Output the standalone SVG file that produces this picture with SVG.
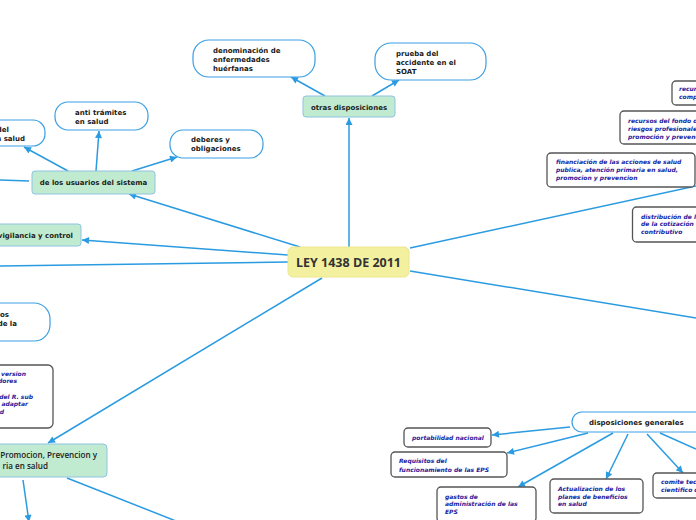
<svg xmlns="http://www.w3.org/2000/svg" width="696" height="520" viewBox="0 0 696 520">
<style>
.conn{stroke:#2b9be1;stroke-width:1.5;fill:none}
.pill{fill:#fff;stroke:#3a9fe3;stroke-width:1.2}
.green{fill:#c1ebd0;stroke:#8ec3e2;stroke-width:1}
.dark{fill:#fff;stroke:#555;stroke-width:1.3}
.t{font-family:"DejaVu Sans",Verdana,sans-serif;font-weight:bold;font-size:7px;fill:#1a1a1a}
.g{font-family:"DejaVu Sans",Verdana,sans-serif;font-weight:bold;font-size:7px;fill:#222}
.bi{font-family:"DejaVu Sans",Verdana,sans-serif;font-weight:bold;font-style:italic;font-size:6px;fill:#1c1c9c}
.os{font-family:"Open Sans","DejaVu Sans",sans-serif;font-weight:600;font-size:8.1px;fill:#222}
</style>
<defs>
<marker id="ah" viewBox="0 0 10 10" refX="10" refY="5" markerWidth="9" markerHeight="7" markerUnits="userSpaceOnUse" orient="auto"><path d="M0,0 L10,5 L0,10 z" fill="#2b9be1"/></marker>
</defs>
<rect width="696" height="520" fill="#fff"/>
<g id="connectors">
<line class="conn" x1="349" y1="247" x2="349" y2="118" marker-end="url(#ah)"/>
<line class="conn" x1="300" y1="247" x2="129" y2="194" marker-end="url(#ah)"/>
<line class="conn" x1="288" y1="255" x2="82" y2="240" marker-end="url(#ah)"/>
<line class="conn" x1="288" y1="262" x2="0" y2="266"/>
<line class="conn" x1="322" y1="278" x2="48" y2="443" marker-end="url(#ah)"/>
<line class="conn" x1="410" y1="248" x2="696" y2="186"/>
<line class="conn" x1="410" y1="271" x2="696" y2="318"/>
<line class="conn" x1="325" y1="96" x2="291" y2="77" marker-end="url(#ah)"/>
<line class="conn" x1="372" y1="96" x2="399" y2="80" marker-end="url(#ah)"/>
<line class="conn" x1="68" y1="171" x2="24" y2="147" marker-end="url(#ah)"/>
<line class="conn" x1="96" y1="171" x2="99" y2="131" marker-end="url(#ah)"/>
<line class="conn" x1="132" y1="171" x2="177" y2="157" marker-end="url(#ah)"/>
<line class="conn" x1="0" y1="180" x2="29" y2="181"/>
<line class="conn" x1="23" y1="480" x2="29" y2="522" marker-end="url(#ah)"/>
<line class="conn" x1="67" y1="478" x2="176" y2="521"/>
<line class="conn" x1="706" y1="162" x2="696" y2="168" marker-end="url(#ah)"/>
<line class="conn" x1="570" y1="427" x2="492" y2="435" marker-end="url(#ah)"/>
<line class="conn" x1="588" y1="433" x2="507" y2="453" marker-end="url(#ah)"/>
<line class="conn" x1="613" y1="433" x2="518" y2="487" marker-end="url(#ah)"/>
<line class="conn" x1="628" y1="434" x2="606" y2="479" marker-end="url(#ah)"/>
<line class="conn" x1="647" y1="434" x2="683" y2="473" marker-end="url(#ah)"/>
<line class="conn" x1="660" y1="433" x2="696" y2="449"/>
</g>
<g id="center">
<rect x="288" y="247" width="121" height="30" rx="5" fill="#f3f0a0" stroke="#ebe68e" stroke-width="1"/>
<text x="348.5" y="266.5" text-anchor="middle" style="font-family:'Open Sans','DejaVu Sans',sans-serif;font-weight:bold;font-size:12.5px;fill:#333">LEY 1438 DE 2011</text>
</g>
<g id="otras">
<rect class="green" x="303" y="96" width="92" height="21" rx="3"/>
<text class="g" x="349" y="110" text-anchor="middle">otras disposiciones</text>
</g>
<g id="denominacion">
<rect class="pill" x="193" y="40" width="122" height="37" rx="16"/>
<text class="t" x="213" y="53">denominación de</text>
<text class="t" x="213" y="62">enfermedades</text>
<text class="t" x="213" y="71">huérfanas</text>
</g>
<g id="prueba">
<rect class="pill" x="375" y="43" width="111" height="37" rx="16"/>
<text class="t" x="396" y="56">prueba del</text>
<text class="t" x="396" y="65">accidente en el</text>
<text class="t" x="396" y="74">SOAT</text>
</g>
<g id="usuarios">
<rect class="green" x="32" y="171" width="123" height="23" rx="3"/>
<text class="g" x="93.5" y="185" text-anchor="middle">de los usuarios del sistema</text>
</g>
<g id="salud-left">
<rect class="pill" x="-60" y="120" width="105" height="26" rx="12"/>
<text class="t" x="9" y="132" text-anchor="end">del</text>
<text class="t" x="25" y="141" text-anchor="end">n salud</text>
</g>
<g id="antitramites">
<rect class="pill" x="55" y="102" width="93" height="28" rx="13"/>
<text class="t" x="75" y="115">anti trámites</text>
<text class="t" x="75" y="124">en salud</text>
</g>
<g id="deberes">
<rect class="pill" x="170" y="130" width="93" height="28" rx="13"/>
<text class="t" x="191" y="142">deberes y</text>
<text class="t" x="191" y="151">obligaciones</text>
</g>
<g id="vigilancia">
<rect class="green" x="-40" y="224" width="121" height="22" rx="3"/>
<text class="g" x="73" y="237.5" text-anchor="end">vigilancia y control</text>
</g>
<g id="los-left">
<rect class="pill" x="-60" y="303" width="110" height="38" rx="16"/>
<text class="t" x="9" y="317" text-anchor="end">los</text>
<text class="t" x="17" y="326" text-anchor="end">de la</text>
</g>
<g id="version-left">
<rect class="dark" x="-60" y="365" width="113" height="63" rx="5"/>
<text class="bi" x="26" y="375.6" text-anchor="end">version</text>
<text class="bi" x="17" y="383.3" text-anchor="end">dores</text>
<text class="bi" x="33" y="398.7" text-anchor="end">del R. sub</text>
<text class="bi" x="28" y="406.4" text-anchor="end">adaptar</text>
<text class="bi" x="4" y="414.1" text-anchor="end">d</text>
</g>
<g id="promocion">
<rect class="green" x="-60" y="444" width="167" height="33" rx="4"/>
<text class="os" x="97" y="458" text-anchor="end">Promocion, Prevencion y</text>
<text class="os" x="48" y="469" text-anchor="end">ria en salud</text>
</g>
<g id="recur">
<rect class="dark" x="672" y="81" width="60" height="24" rx="4"/>
<text class="bi" x="679" y="91">recursos</text>
<text class="bi" x="679" y="99">compensación</text>
</g>
<g id="fondo">
<rect class="dark" x="620" y="111" width="110" height="33" rx="4"/>
<text class="bi" x="628" y="123">recursos del fondo de</text>
<text class="bi" x="628" y="131">riesgos profesionales</text>
<text class="bi" x="628" y="139">promoción y prevención</text>
</g>
<g id="financiacion">
<rect class="dark" x="547" y="153" width="148" height="34" rx="4"/>
<text class="bi" x="556" y="164">financiación de las acciones de salud</text>
<text class="bi" x="556" y="172">publica, atención primaria en salud,</text>
<text class="bi" x="556" y="180">promocion y prevencion</text>
</g>
<g id="distribucion">
<rect class="dark" x="632.5" y="207" width="100" height="35" rx="4"/>
<text class="bi" x="641" y="218.5">distribución de los</text>
<text class="bi" x="641" y="226">de la cotización del</text>
<text class="bi" x="641" y="234">contributivo</text>
</g>
<g id="disposiciones">
<rect class="pill" x="572" y="412" width="140" height="20" rx="10"/>
<text class="t" x="589" y="424.5">disposiciones generales</text>
</g>
<g id="portabilidad">
<rect class="dark" x="404" y="428" width="87" height="19" rx="4"/>
<text class="bi" x="412" y="440">portabilidad nacional</text>
</g>
<g id="requisitos">
<rect class="dark" x="391" y="452" width="116" height="25" rx="4"/>
<text class="bi" x="399" y="463">Requisitos del</text>
<text class="bi" x="399" y="471.5">funcionamiento de las EPS</text>
</g>
<g id="gastos">
<rect class="dark" x="437" y="487" width="99" height="35" rx="4"/>
<text class="bi" x="445" y="498.5">gastos de</text>
<text class="bi" x="445" y="506">administración de las</text>
<text class="bi" x="445" y="514">EPS</text>
</g>
<g id="actualizacion">
<rect class="dark" x="550" y="479" width="93" height="34" rx="4"/>
<text class="bi" x="558" y="490.5">Actualizacion de los</text>
<text class="bi" x="558" y="498.5">planes de beneficios</text>
<text class="bi" x="558" y="506">en salud</text>
</g>
<g id="comite">
<rect class="dark" x="653" y="473" width="80" height="25" rx="4"/>
<text class="bi" x="661" y="483.5">comite tecnico</text>
<text class="bi" x="661" y="491.5">cientifico de</text>
</g>
</svg>
